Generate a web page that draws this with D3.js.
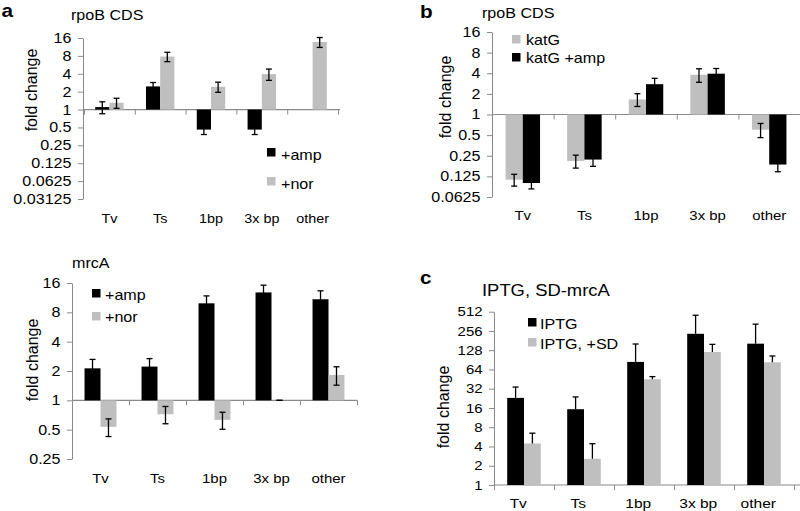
<!DOCTYPE html>
<html><head><meta charset="utf-8">
<script src="https://cdn.jsdelivr.net/npm/d3@7"></script>
<style>
body{margin:0;background:#fff}
svg text{font-family:"Liberation Sans",Arial,sans-serif;fill:#000}
</style>
</head><body>
<svg id="chart" width="800" height="511"></svg>
<script>
// ---------- data ----------
const categories = ["Tv", "Ts", "1bp", "3x bp", "other"];

const ticksA = [0.03125, 0.0625, 0.125, 0.25, 0.5, 1, 2, 4, 8, 16];
const ticksB = [0.0625, 0.125, 0.25, 0.5, 1, 2, 4, 8, 16];
const ticksMrcA = [0.25, 0.5, 1, 2, 4, 8, 16];
const ticksC = [1, 2, 4, 8, 16, 32, 64, 128, 256, 512];

// panel a (rpoB CDS)
const aAmp = [1.1, 2.45, 0.46, 0.46, null];
const aAmpErr = [0.25, 0.4, 0.08, 0.08, null];
const aNor = [1.3, 7.8, 2.42, 3.95, 13.7];
const aNorErr = [0.25, 1.4, 0.47, 0.85, 2.6];

// panel b (rpoB CDS, katG)
const bKatG = [0.112, 0.21, 1.66, 3.8, 0.6];
const bKatGErr = [0.022, 0.045, 0.35, 0.85, 0.14];
const bKatGAmp = [0.10, 0.22, 2.77, 3.94, 0.186];
const bKatGAmpErr = [0.018, 0.045, 0.6, 0.75, 0.04];

// panel a lower (mrcA)
const mAmp = [2.13, 2.22, 9.9, 12.8, 10.9];
const mAmpErr = [0.5, 0.46, 1.9, 2.4, 2.4];
const mNor = [0.535, 0.72, 0.63, 1.0, 1.82];
const mNorErr = [0.11, 0.145, 0.125, 0, 0.39];

// panel c (IPTG, SD-mrcA)
const cIptg = [23, 15.3, 84, 231, 162];
const cIptgErr = [11, 8.5, 76, 220, 165];
const cIptgSD = [4.46, 2.57, 45, 120, 83];
const cIptgSDErr = [2.0, 1.85, 4.5, 38, 21];

const BLACK = "#000000", GRAY = "#bfbfbf", AXIS = "#8a8a8a";

// ---------- panels (layout) ----------
const panels = [
  { letter: "a", letterPos: [1.5, 17], title: "rpoB CDS", titlePos: [71, 20], titleSize: 14,
    band: [84, 338], axisEnd: 340, yDomain: [0.03125, 16], yRange: [199, 38], ticks: ticksA,
    tickSize: 14, catY: 223, catSize: 12.5, catDx: 0, yLabel: [31, 90], errMode: "both",
    series: [
      { name: "+amp", values: aAmp, errs: aAmpErr, color: BLACK },
      { name: "+nor", values: aNor, errs: aNorErr, color: GRAY }],
    legend: { sx: 267, sy: [148, 177], tx: 281, ty: [160, 189], order: [0, 1] } },
  { letter: "b", letterPos: [420, 18], title: "rpoB CDS", titlePos: [482, 18], titleSize: 14,
    band: [492, 800], axisEnd: 800, yDomain: [0.0625, 16], yRange: [197, 32], ticks: ticksB,
    tickSize: 14, catY: 220, catSize: 13, catDx: 0, yLabel: [445, 97], errMode: "both",
    series: [
      { name: "katG", values: bKatG, errs: bKatGErr, color: GRAY },
      { name: "katG +amp", values: bKatGAmp, errs: bKatGAmpErr, color: BLACK }],
    legend: { sx: 512, sy: [35, 53], tx: 526, ty: [45, 63], order: [0, 1] } },
  { letter: null, title: "mrcA", titlePos: [72, 268], titleSize: 14,
    band: [72, 357], axisEnd: 357, yDomain: [0.25, 16], yRange: [459, 283], ticks: ticksMrcA,
    tickSize: 14, catY: 483, catSize: 13, catDx: 0, yLabel: [32, 360], errMode: "both",
    series: [
      { name: "+amp", values: mAmp, errs: mAmpErr, color: BLACK },
      { name: "+nor", values: mNor, errs: mNorErr, color: GRAY }],
    legend: { sx: 92, sy: [289, 312], tx: 105, ty: [300, 322], order: [0, 1] } },
  { letter: "c", letterPos: [420, 284], title: "IPTG, SD-mrcA", titlePos: [482, 296], titleSize: 16,
    band: [494, 794], axisEnd: 800, yDomain: [1, 512], yRange: [485, 311.7], ticks: ticksC,
    tickSize: 13, catY: 508, catSize: 13.5, catDx: -5, yLabel: [443, 407], errMode: "up",
    series: [
      { name: "IPTG", values: cIptg, errs: cIptgErr, color: BLACK },
      { name: "IPTG, +SD", values: cIptgSD, errs: cIptgSDErr, color: GRAY }],
    legend: { sx: 528, sy: [318, 338], tx: 540, ty: [329, 349], order: [0, 1] } }
];

const SX = 1.15; // horizontal text stretch seen in the reference
const svg = d3.select("#chart");

function stretchedText(g, x, y, str, size, opts = {}) {
  return g.append("text")
    .attr("transform", `translate(${x},${y}) scale(${SX},1)`)
    .attr("font-size", size)
    .attr("font-weight", opts.bold ? "bold" : null)
    .attr("text-anchor", opts.anchor || "start")
    .text(str);
}

panels.forEach(p => {
  const g = svg.append("g");
  const x = d3.scaleBand().domain(categories).range(p.band).paddingInner(0).paddingOuter(0);
  const y = d3.scaleLog().base(2).domain(p.yDomain).range(p.yRange);
  const bw = x.bandwidth();
  const w = bw * 0.28;
  const n = p.series.length;
  const axX = p.band[0] - (p.band[0] === 84 ? 1 : 0);

  // y axis
  const yAx = g.append("g").attr("transform", `translate(${axX},0)`)
    .call(d3.axisLeft(y).tickValues(p.ticks).tickFormat(d => String(d)).tickSize(5).tickSizeOuter(0).tickPadding(5));
  yAx.select(".domain").attr("stroke", AXIS);
  yAx.selectAll(".tick line").attr("stroke", AXIS);
  yAx.selectAll(".tick text")
    .attr("font-size", p.tickSize)
    .attr("font-family", "Liberation Sans, Arial, sans-serif")
    .attr("fill", "#000")
    .attr("transform", `scale(${SX},1)`);

  // baseline (at 1) with boundary ticks
  const idx = d3.scaleLinear().domain([0, categories.length]).range(p.band);
  const xAx = g.append("g").attr("transform", `translate(0,${y(1)})`)
    .call(d3.axisBottom(idx).tickValues(d3.range(categories.length + 1)).tickFormat("").tickSize(5).tickSizeOuter(0));
  xAx.select(".domain").remove();
  xAx.selectAll(".tick line").attr("stroke", AXIS);
  g.append("line").attr("x1", axX).attr("x2", p.axisEnd)
    .attr("y1", y(1)).attr("y2", y(1)).attr("stroke", AXIS).attr("stroke-width", 1.2);

  // category labels
  const cAx = g.append("g").attr("transform", `translate(0,${p.catY})`)
    .call(d3.axisBottom(x).tickSize(0).tickPadding(0));
  cAx.select(".domain").remove();
  cAx.selectAll(".tick text")
    .attr("y", 0).attr("dy", 0).attr("x", p.catDx)
    .attr("font-size", p.catSize)
    .attr("font-family", "Liberation Sans, Arial, sans-serif")
    .attr("fill", "#000")
    .attr("transform", `scale(${SX},1)`);

  // bars
  const barX = (cat, j) => x(cat) + bw / 2 - (n * w) / 2 + j * w;
  p.series.forEach((s, j) => {
    g.append("g").selectAll("rect")
      .data(categories.map((c, i) => ({ c, v: s.values[i] })).filter(d => d.v != null))
      .join("rect")
      .attr("x", d => barX(d.c, j))
      .attr("width", w)
      .attr("y", d => y(Math.max(d.v, 1)))
      .attr("height", d => Math.abs(y(d.v) - y(1)))
      .attr("fill", s.color);
  });

  // error bars
  const cap = 3;
  p.series.forEach((s, j) => {
    const data = categories.map((c, i) => ({ c, v: s.values[i], e: s.errs[i] })).filter(d => d.v != null);
    const eg = g.append("g").attr("stroke", "#000").attr("stroke-width", 1.3).attr("fill", "none");
    data.forEach(d => {
      const cx = barX(d.c, j) + w / 2;
      const hi = d.v + d.e;
      const lo = p.errMode === "both" ? Math.max(d.v - d.e, p.yDomain[0] / 4) : d.v;
      eg.append("line").attr("x1", cx).attr("x2", cx).attr("y1", y(hi)).attr("y2", y(lo));
      eg.append("line").attr("x1", cx - cap).attr("x2", cx + cap).attr("y1", y(hi)).attr("y2", y(hi));
      if (p.errMode === "both")
        eg.append("line").attr("x1", cx - cap).attr("x2", cx + cap).attr("y1", y(lo)).attr("y2", y(lo));
    });
  });

  // legend
  p.legend.order.forEach((si, k) => {
    const s = p.series[si];
    g.append("rect").attr("x", p.legend.sx).attr("y", p.legend.sy[k]).attr("width", 8.5).attr("height", 8.5).attr("fill", s.color);
    stretchedText(g, p.legend.tx, p.legend.ty[k], s.name, 14);
  });

  // title, letter, y label
  stretchedText(g, p.titlePos[0], p.titlePos[1], p.title, p.titleSize);
  if (p.letter) stretchedText(g, p.letterPos[0], p.letterPos[1], p.letter, 18, { bold: true });
  g.append("text")
    .attr("transform", `translate(${p.yLabel[0]},${p.yLabel[1]}) rotate(-90)`)
    .attr("text-anchor", "middle").attr("dominant-baseline", "central")
    .attr("font-size", 16).text("fold change");
});
</script>
</body></html>
